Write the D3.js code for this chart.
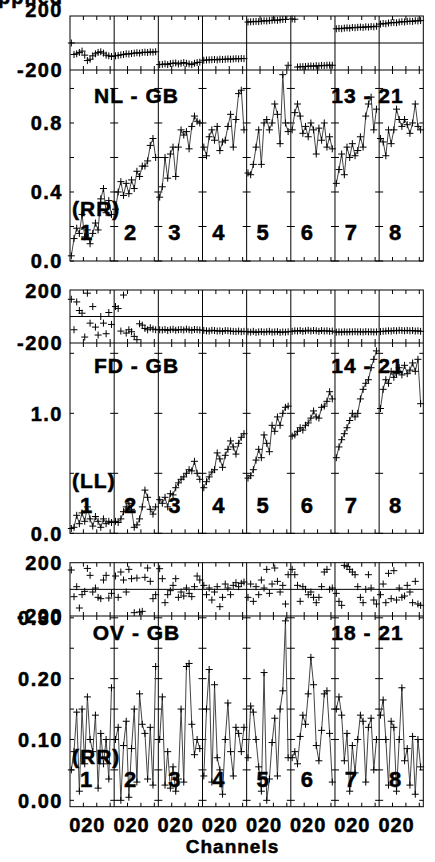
<!DOCTYPE html>
<html>
<head>
<meta charset="utf-8">
<script src="https://cdn.jsdelivr.net/npm/d3@7"></script>
<style>
  html, body { margin: 0; padding: 0; background: #fff; }
  svg text { font-family: "Liberation Sans", Arial, sans-serif; font-weight: bold; fill: #000; stroke: #000; stroke-width: 0.5px; }
</style>
</head>
<body>
<div id="chart"></div>
<script>
// IFs and channels
const ifNames = ['1', '2', '3', '4', '5', '6', '7', '8'];
const channels = [1, 3, 5, 7, 9, 11, 13, 15, 17, 19, 21, 23, 25, 27, 29, 31];
const channelTicks = [10, 20, 30];
const channelLabels = [0, 20];

// NL - GB (RR), baseline 13 - 21
const nlAmp = [
  [0.03, 0.13, 0.19, 0.16, 0.27, 0.14, 0.18, 0.10, 0.16, 0.22, 0.18, 0.36, 0.42, 0.28, 0.35, 0.27],
  [0.30, 0.40, 0.46, 0.38, 0.45, 0.39, 0.47, 0.42, 0.52, 0.49, 0.55, 0.55, 0.58, 0.67, 0.71, 0.60],
  [0.37, 0.43, 0.60, 0.48, 0.62, 0.66, 0.49, 0.66, 0.76, 0.73, 0.75, 0.65, 0.78, 0.84, 0.81, 0.80],
  [0.66, 0.61, 0.72, 0.76, 0.70, 0.78, 0.64, 0.69, 0.70, 0.78, 0.85, 0.66, 0.82, 0.97, 0.99, 0.76],
  [0.51, 0.50, 0.56, 0.66, 0.76, 0.56, 0.80, 0.82, 0.76, 0.80, 0.91, 0.85, 0.68, 1.08, 0.80, 0.75],
  [0.76, 0.86, 0.91, 0.84, 0.74, 0.78, 0.72, 0.80, 0.76, 0.62, 0.77, 0.70, 0.80, 0.66, 0.72, 0.65],
  [0.45, 0.53, 0.62, 0.50, 0.66, 0.60, 0.68, 0.61, 0.64, 0.72, 0.66, 0.84, 0.91, 0.95, 0.76, 0.88],
  [0.71, 0.69, 0.61, 0.76, 0.68, 0.76, 0.88, 0.82, 0.78, 0.82, 0.79, 0.74, 0.80, 0.91, 0.78, 0.76]
];
const nlPhase = [
  [0, -85, -80, -70, -60, -90, -130, -120, -95, -80, -70, -65, -75, -90, -95, -100],
  [-95, -92, -88, -85, -80, -82, -78, -75, -72, -75, -70, -68, -70, -66, -68, -65],
  [-160, -158, -155, -160, -152, -150, -148, -155, -150, -145, -150, -155, -160, -150, -145, -142],
  [-128, -126, -125, -124, -122, -125, -120, -122, -120, -118, -120, -118, -116, -118, -115, -116],
  [155, 157, 158, 160, 158, 162, 165, 163, 166, 168, 170, 168, 172, 175, 174, -165],
  [178, 176, -178, -176, -175, -174, -172, -170, -172, -168, -170, -166, -168, -165, -164, -165],
  [105, 108, 106, 110, 112, 110, 115, 113, 116, 118, 115, 120, 118, 122, 120, 124],
  [140, 145, 142, 148, 150, 152, 150, 155, 158, 156, 160, 162, 160, 165, 163, 166]
];

// FD - GB (LL), baseline 14 - 21
const fdAmp = [
  [0.04, 0.05, 0.15, 0.08, 0.17, 0.10, 0.22, 0.12, 0.06, 0.14, 0.10, 0.05, 0.12, 0.08, 0.10, 0.09],
  [0.10, 0.09, 0.12, 0.18, 0.22, 0.25, 0.20, 0.05, 0.07, 0.12, 0.22, 0.36, 0.30, 0.20, 0.16, 0.22],
  [0.28, 0.25, 0.30, 0.22, 0.33, 0.32, 0.38, 0.42, 0.45, 0.47, 0.50, 0.53, 0.52, 0.60, 0.50, 0.45],
  [0.38, 0.43, 0.47, 0.51, 0.53, 0.67, 0.62, 0.55, 0.65, 0.70, 0.77, 0.72, 0.66, 0.75, 0.80, 0.83],
  [0.46, 0.48, 0.53, 0.61, 0.70, 0.63, 0.82, 0.75, 0.68, 0.90, 0.85, 0.97, 0.90, 1.00, 1.05, 1.06],
  [0.81, 0.82, 0.85, 0.88, 0.86, 0.90, 0.92, 0.96, 1.02, 0.97, 0.96, 1.05, 1.06, 1.10, 1.18, 1.12],
  [0.63, 0.72, 0.78, 0.83, 0.88, 0.94, 1.00, 0.97, 1.00, 1.12, 1.20, 1.25, 1.28, 1.38, 1.45, 1.52],
  [1.04, 1.20, 1.28, 1.25, 1.35, 1.30, 1.33, 1.38, 1.32, 1.40, 1.33, 1.36, 1.42, 1.35, 1.45, 1.08]
];
const fdPhase = [
  [130, -100, 110, 45, 25, -155, 176, -50, 75, -80, -140, 0, -50, -130, 30, -60],
  [75, 60, -110, 162, -125, -100, -115, -150, -175, -55, -65, -90, -100, -85, -95, -100],
  [-100, -102, -98, -105, -100, -96, -104, -100, -98, -102, -95, -100, -104, -98, -100, -102],
  [-105, -108, -110, -104, -106, -110, -108, -112, -106, -108, -110, -112, -114, -110, -115, -112],
  [-115, -118, -112, -120, -116, -114, -118, -115, -112, -118, -116, -114, -120, -116, -118, -115],
  [-112, -108, -110, -106, -112, -108, -104, -110, -106, -108, -112, -106, -110, -108, -112, -110],
  [-118, -116, -118, -115, -117, -115, -116, -114, -116, -115, -117, -114, -116, -115, -117, -116],
  [-114, -112, -110, -108, -110, -106, -108, -104, -106, -108, -105, -108, -106, -110, -108, -112]
];

// OV - GB (RR), baseline 18 - 21
const ovAmp = [
  [0.05, 0.08, 0.145, 0.015, 0.15, 0.06, 0.17, 0.10, 0.08, 0.14, 0.02, 0.11, 0.06, 0.10, 0.035, 0.185],
  [0.10, 0.12, 0.00, 0.09, 0.13, 0.005, 0.085, 0.15, 0.03, 0.175, 0.125, 0.11, 0.035, 0.12, 0.025, 0.22],
  [0.10, 0.17, 0.025, 0.08, 0.02, 0.055, 0.015, 0.035, 0.15, 0.03, 0.22, 0.225, 0.125, 0.075, 0.10, 0.085],
  [0.04, 0.15, 0.215, 0.03, 0.19, 0.07, 0.05, 0.01, 0.10, 0.16, 0.08, 0.04, 0.12, 0.11, 0.08, 0.12],
  [0.07, 0.155, 0.145, 0.10, 0.055, 0.015, 0.21, 0.00, 0.035, 0.095, 0.135, 0.04, 0.15, 0.18, 0.295, 0.07],
  [0.07, 0.08, 0.06, 0.105, 0.14, 0.125, 0.175, 0.235, 0.19, 0.09, 0.065, 0.115, 0.175, 0.18, 0.11, 0.03],
  [0.15, 0.17, 0.14, 0.065, 0.11, 0.015, 0.09, 0.045, 0.10, 0.14, 0.13, 0.03, 0.12, 0.135, 0.05, 0.10],
  [0.14, 0.165, 0.10, 0.025, 0.13, 0.12, 0.015, 0.10, 0.185, 0.065, 0.085, 0.025, 0.105, 0.01, 0.10, 0.055]
];
const ovPhase = [
  [145, -55, 20, -140, -40, -15, 157, 105, -20, 10, -60, -70, 70, 105, -65, -30],
  [100, -60, 130, 70, -20, 150, 80, -175, 85, -170, -165, 90, 160, 60, -70, -40],
  [155, 80, -100, -40, -10, 30, 80, -60, -20, -50, 10, -30, -55, 20, 100, 70],
  [30, -40, 10, -80, -20, 20, -130, -60, 40, 10, -40, 30, 50, 20, 45, 55],
  [-60, 40, -90, 20, -40, 70, 10, 150, -30, 40, 160, 60, -20, 30, -110, 110],
  [150, 110, 30, -90, 20, 0, -40, -20, -60, -100, -60, 20, 130, 150, 0, 10],
  [-30, -90, -120, 180, 170, 150, 130, 110, 20, -60, -100, 0, 110, 10, -80, -110],
  [-40, 40, -100, 120, -70, 140, -80, 10, -60, -50, 30, -20, -100, 60, -110, -120]
];

const phaseLabels = [200, -200];

const panels = [
  { name: 'NL - GB', range: '13 - 21', pol: '(RR)', amp: nlAmp, phase: nlPhase,
    phTop: 16, ampTop: 70, ampBottom: 261, ampDomain: [0, 1.107],
    ampTicks: [0, 0.2, 0.4, 0.6, 0.8, 1.0], ampLabels: [0, 0.4, 0.8], fmt: '.1f',
    nameY: 103, polY: 216, numY: 240, topLabelShift: -6 },
  { name: 'FD - GB', range: '14 - 21', pol: '(LL)', amp: fdAmp, phase: fdPhase,
    phTop: 290, ampTop: 343, ampBottom: 533.3, ampDomain: [0, 1.586],
    ampTicks: [0, 0.5, 1.0, 1.5], ampLabels: [0, 1.0], fmt: '.1f',
    nameY: 373, polY: 488, numY: 513, topLabelShift: 1 },
  { name: 'OV - GB', range: '18 - 21', pol: '(RR)', amp: ovAmp, phase: ovPhase,
    phTop: 562.7, ampTop: 616, ampBottom: 806.7, ampDomain: [-0.0105, 0.303],
    ampTicks: [0, 0.05, 0.10, 0.15, 0.20, 0.25, 0.30], ampLabels: [0, 0.1, 0.2, 0.3], fmt: '.2f',
    nameY: 640, polY: 764, numY: 787, topLabelShift: 0 }
];

const width = 435, height = 862;
const left = 70, right = 423.3;
const tick = 4;

const svg = d3.select('#chart').append('svg')
  .attr('width', width)
  .attr('height', height);

const ifX = d3.scaleBand().domain(ifNames).range([left, right]).paddingInner(0).paddingOuter(0);
const chX = d3.scaleLinear().domain([0, 33]).range([0, ifX.bandwidth()]);
const xOf = (i, c) => ifX(ifNames[i]) + chX(c);

const cross = 'M-3.5,0H3.5M0,-3.5V3.5';

// title fragment clipped at top-left
svg.append('text')
  .attr('x', 63).attr('y', 3.5)
  .attr('text-anchor', 'end')
  .style('font-size', '20px').style('letter-spacing', '1px')
  .text('Applied');

panels.forEach(p => {
  const yPh = d3.scaleLinear().domain([-200, 200]).range([p.ampTop, p.phTop]);
  const yAmp = d3.scaleLinear().domain(p.ampDomain).range([p.ampBottom, p.ampTop]);
  const g = svg.append('g');

  // frame
  g.append('rect')
    .attr('x', left).attr('y', p.phTop)
    .attr('width', right - left).attr('height', p.ampBottom - p.phTop)
    .style('fill', 'none').style('stroke', '#000').style('stroke-width', 1);
  g.append('line')
    .attr('x1', left).attr('x2', right)
    .attr('y1', p.ampTop).attr('y2', p.ampTop)
    .style('stroke', '#000');
  // phase zero line
  g.append('line')
    .attr('x1', left).attr('x2', right)
    .attr('y1', yPh(0)).attr('y2', yPh(0))
    .style('stroke', '#000');

  // IF dividers
  ifNames.forEach((n, i) => {
    if (i > 0) {
      g.append('line')
        .attr('x1', ifX(n)).attr('x2', ifX(n))
        .attr('y1', p.phTop).attr('y2', p.ampBottom)
        .style('stroke', '#000');
    }
  });

  // amplitude ticks on every divider
  const edges = ifNames.map(n => ifX(n)).concat([right]);
  edges.forEach((ex, k) => {
    p.ampTicks.forEach(t => {
      const y = yAmp(t);
      const x1 = k === 0 ? ex : ex - tick;
      const x2 = k === edges.length - 1 ? ex : ex + tick;
      g.append('line')
        .attr('x1', x1).attr('x2', x2).attr('y1', y).attr('y2', y)
        .style('stroke', '#000');
    });
  });

  // channel ticks
  ifNames.forEach((n, i) => {
    channelTicks.forEach(c => {
      const x = xOf(i, c);
      g.append('line').attr('x1', x).attr('x2', x)
        .attr('y1', p.ampBottom).attr('y2', p.ampBottom - tick).style('stroke', '#000');
      g.append('line').attr('x1', x).attr('x2', x)
        .attr('y1', p.ampTop - tick).attr('y2', p.ampTop + tick).style('stroke', '#000');
      g.append('line').attr('x1', x).attr('x2', x)
        .attr('y1', p.phTop).attr('y2', p.phTop + tick).style('stroke', '#000');
    });
  });

  // amplitude lines and markers
  const line = d3.line()
    .x(d => d.x)
    .y(d => yAmp(d.v));
  p.amp.forEach((vals, i) => {
    const pts = vals.map((v, j) => ({ x: xOf(i, channels[j]), v }));
    g.append('path')
      .datum(pts)
      .attr('d', line)
      .style('fill', 'none')
      .style('stroke', '#444')
      .style('stroke-width', 1);
    g.selectAll(null)
      .data(pts)
      .enter().append('path')
      .attr('d', cross)
      .attr('transform', d => `translate(${d.x},${yAmp(d.v)})`)
      .style('stroke', '#000')
      .style('stroke-width', 1);
  });

  // phase markers
  p.phase.forEach((vals, i) => {
    g.selectAll(null)
      .data(vals)
      .enter().append('path')
      .attr('d', cross)
      .attr('transform', (d, j) => `translate(${xOf(i, channels[j])},${yPh(d)})`)
      .style('stroke', '#000')
      .style('stroke-width', 1);
  });

  // y labels
  phaseLabels.forEach(v => {
    g.append('text')
      .attr('x', 63).attr('y', yPh(v) + (v > 0 ? p.topLabelShift : 0)).attr('dy', '0.36em')
      .attr('text-anchor', 'end')
      .style('font-size', '20px').style('letter-spacing', '1.5px')
      .text(v);
  });
  p.ampLabels.forEach(v => {
    g.append('text')
      .attr('x', 63).attr('y', yAmp(v)).attr('dy', '0.36em')
      .attr('text-anchor', 'end')
      .style('font-size', '20px').style('letter-spacing', '1.5px')
      .text(d3.format(p.fmt)(v));
  });

  // in-plot labels
  g.append('text')
    .attr('x', 136.5).attr('y', p.nameY)
    .attr('text-anchor', 'middle')
    .style('font-size', '21px').style('letter-spacing', '1px')
    .text(p.name);
  g.append('text')
    .attr('x', 367.5).attr('y', p.nameY)
    .attr('text-anchor', 'middle')
    .style('font-size', '21px').style('letter-spacing', '1px')
    .text(p.range);
  g.append('text')
    .attr('x', 72).attr('y', p.polY)
    .style('font-size', '21px').style('letter-spacing', '1px')
    .text(p.pol);
  ifNames.forEach(n => {
    g.append('text')
      .attr('x', ifX(n) + 16).attr('y', p.numY)
      .attr('text-anchor', 'middle')
      .style('font-size', '22px')
      .text(n);
  });
});

// channel axis labels at the bottom
ifNames.forEach((n, i) => {
  channelLabels.forEach(c => {
    svg.append('text')
      .attr('x', xOf(i, c) + (c === 0 ? 5.3 : -3.4))
      .attr('y', 832)
      .attr('text-anchor', 'middle')
      .style('font-size', '20px').style('letter-spacing', '1px')
      .text(c);
  });
});
svg.append('text')
  .attr('x', 232.5).attr('y', 853)
  .attr('text-anchor', 'middle')
  .style('font-size', '19px').style('letter-spacing', '1px')
  .text('Channels');
</script>
</body>
</html>
